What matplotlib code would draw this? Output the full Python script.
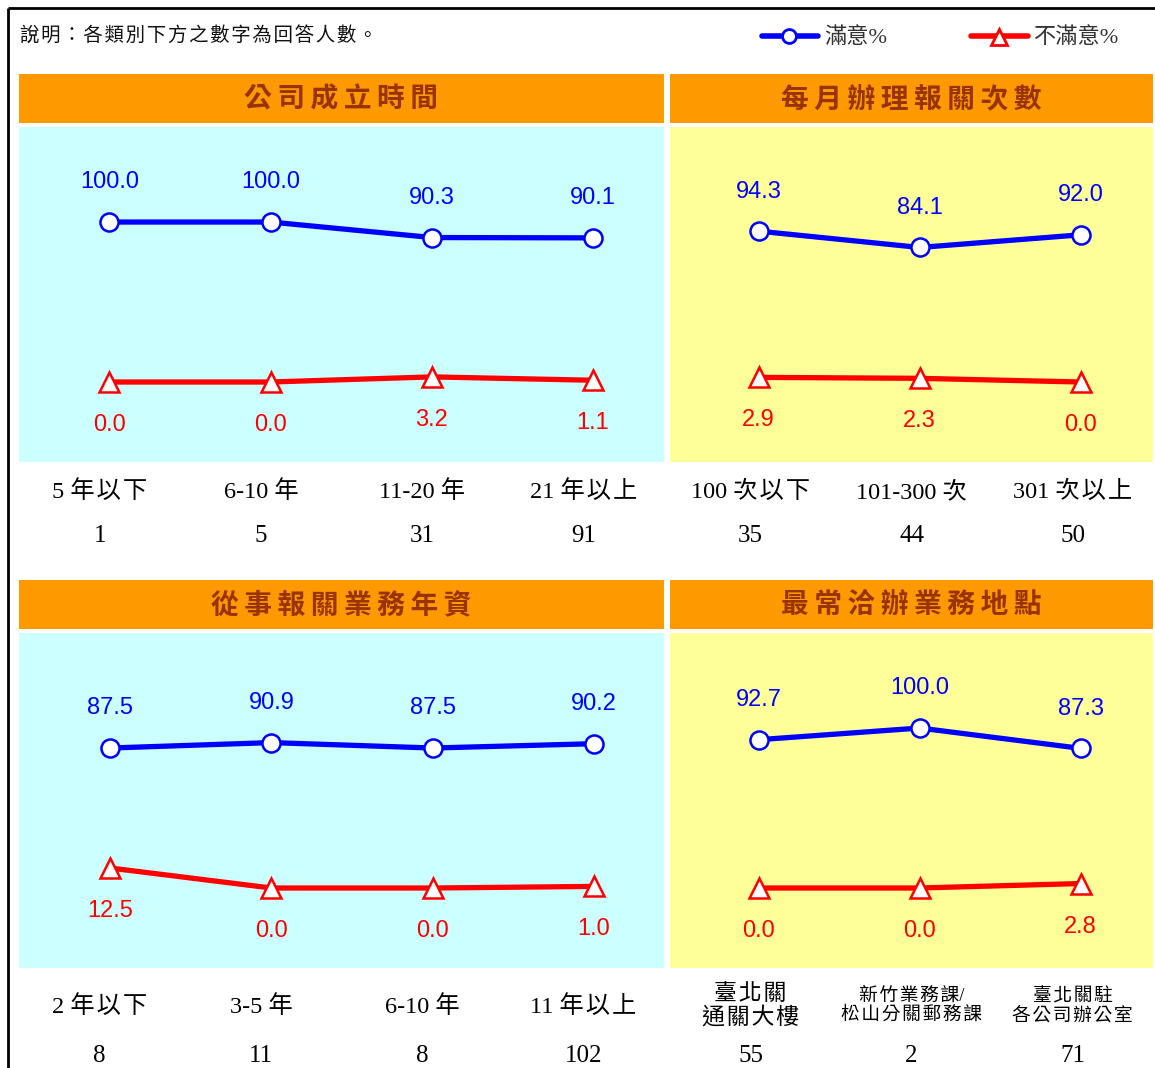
import matplotlib
matplotlib.use("Agg")
import matplotlib.pyplot as plt
from matplotlib.patches import Rectangle
from matplotlib.transforms import blended_transform_factory

plt.rcParams['font.family'] = ['Liberation Sans', 'Noto Sans CJK TC', 'DejaVu Sans']

# satisfaction survey by group
title_age = "公司成立時間"
cats_age = ["5 年以下", "6-10 年", "11-20 年", "21 年以上"]
n_age = [1, 5, 31, 91]
sat_age = [100.0, 100.0, 90.3, 90.1]
dis_age = [0.0, 0.0, 3.2, 1.1]

title_freq = "每月辦理報關次數"
cats_freq = ["100 次以下", "101-300 次", "301 次以上"]
n_freq = [35, 44, 50]
sat_freq = [94.3, 84.1, 92.0]
dis_freq = [2.9, 2.3, 0.0]

title_exp = "從事報關業務年資"
cats_exp = ["2 年以下", "3-5 年", "6-10 年", "11 年以上"]
n_exp = [8, 11, 8, 102]
sat_exp = [87.5, 90.9, 87.5, 90.2]
dis_exp = [12.5, 0.0, 0.0, 1.0]

title_loc = "最常洽辦業務地點"
cats_loc = ["臺北關\n通關大樓", "新竹業務課/\n松山分關郵務課", "臺北關駐\n各公司辦公室"]
n_loc = [55, 2, 71]
sat_loc = [92.7, 100.0, 87.3]
dis_loc = [0.0, 0.0, 2.8]

W, H = 1155, 1068
BLUE = "#0000FF"
RED = "#FF0000"
ORANGE = "#FF9900"
HEAD_TXT = "#993300"
SERIF = ['Liberation Serif', 'Noto Sans CJK TC', 'DejaVu Sans']


def spaced(s, gap="\u200a"):
    # put a hair space between neighbouring CJK characters
    out = ""
    for i, ch in enumerate(s):
        out += ch
        if i + 1 < len(s) and ord(ch) > 0x2E80 and ord(s[i + 1]) > 0x2E80:
            out += gap
    return out


fig = plt.figure(figsize=(W / 100, H / 100), dpi=100)

# full-page axes in pixel units for frame, headers and legend
bg = fig.add_axes([0, 0, 1, 1])
bg.set_xlim(0, W)
bg.set_ylim(H, 0)
bg.axis("off")
bg.plot([8, W], [8, 8], color="black", lw=2, solid_capstyle="butt")
bg.plot([8, 8], [8, H], color="black", lw=2, solid_capstyle="butt")
bg.text(20, 35, spaced("說明：各類別下方之數字為回答人數。"), fontsize=14, va="center",
        family=SERIF, color="#111111")

# legend
bg.plot([762, 818], [36, 36], color=BLUE, lw=4, solid_capstyle="round")
bg.plot([789], [36], marker="o", ms=10, mfc="white", mec=BLUE, mew=2)
bg.text(824, 38, "滿意%", fontsize=16, va="center", color="#333333", family=SERIF)
bg.plot([971, 1028], [36, 36], color=RED, lw=4, solid_capstyle="round")
bg.plot([999], [37], marker="^", ms=11, mfc="white", mec=RED, mew=2)
bg.text(1033, 38, "不滿意%", fontsize=16, va="center", color="#333333", family=SERIF)


def px_fig(x0, y0, x1, y1):
    return [x0 / W, 1 - y1 / H, (x1 - x0) / W, (y1 - y0) / H]


def panel(x0, x1, y0, title, cats, n, sat, dis, bgcol, shift, lab_dy, cnt_dy):
    # header bar
    bg.add_patch(Rectangle((x0, y0), x1 - x0, 49, color=ORANGE, lw=0))
    bg.text((x0 + x1) / 2, y0 + 25, spaced(title, "\u2009"), fontsize=20,
            fontweight="bold", color=HEAD_TXT, ha="center", va="center",
            family=['Noto Sans CJK TC', 'DejaVu Sans'])

    py0 = y0 + 53
    py1 = py0 + 335
    ax = fig.add_axes(px_fig(x0, py0, x1, py1))
    ax.set_facecolor(bgcol)
    ax.set_xlim(-0.5, len(cats) - 0.5)
    ax.set_ylim(-50, 159.4)
    for s in ax.spines.values():
        s.set_visible(False)
    ax.set_xticks([])
    ax.set_yticks([])

    xs = [i + shift for i in range(len(cats))]
    ax.plot(xs, sat, color=BLUE, lw=3.8, marker="o", ms=13, mfc="white",
            mec=BLUE, mew=1.8, zorder=3)
    ax.plot(xs, dis, color=RED, lw=3.8, marker="^", ms=14, mfc="white",
            mec=RED, mew=1.8, zorder=3)
    for x, v in zip(xs, sat):
        ax.annotate(f"{v:.1f}", (x, v), xytext=(0, 28.5), textcoords="offset points",
                    ha="center", va="center", fontsize=17, color=BLUE)
    for x, v in zip(xs, dis):
        ax.annotate(f"{v:.1f}", (x, v), xytext=(0, -31), textcoords="offset points",
                    ha="center", va="center", fontsize=17, color=RED)

    tr = blended_transform_factory(ax.transData, bg.transData)
    for i, (c, k) in enumerate(zip(cats, n)):
        fs = 17.5
        if "\n" in c:
            fs = 16.5
            if len(c) > 10:
                fs = 13.5
        ax.text(i, py1 + lab_dy, spaced(c), transform=tr, ha="center", va="center",
                fontsize=fs, family=SERIF, color="black", linespacing=1.1,
                clip_on=False)
        ax.text(i, py1 + cnt_dy, str(k), transform=tr, ha="center", va="center",
                fontsize=18, family=SERIF, color="black", clip_on=False)
    return ax


panel(19, 664, 74, title_age, cats_age, n_age, sat_age, dis_age, "#CCFFFF", 0.06, 30, 74)
panel(670, 1153, 74, title_freq, cats_freq, n_freq, sat_freq, dis_freq, "#FFFF99", 0.05, 30, 74)
panel(19, 664, 580, title_exp, cats_exp, n_exp, sat_exp, dis_exp, "#CCFFFF", 0.065, 39, 88)
panel(670, 1153, 580, title_loc, cats_loc, n_loc, sat_loc, dis_loc, "#FFFF99", 0.05, 38, 88)

fig.savefig("out.png", dpi=100)
